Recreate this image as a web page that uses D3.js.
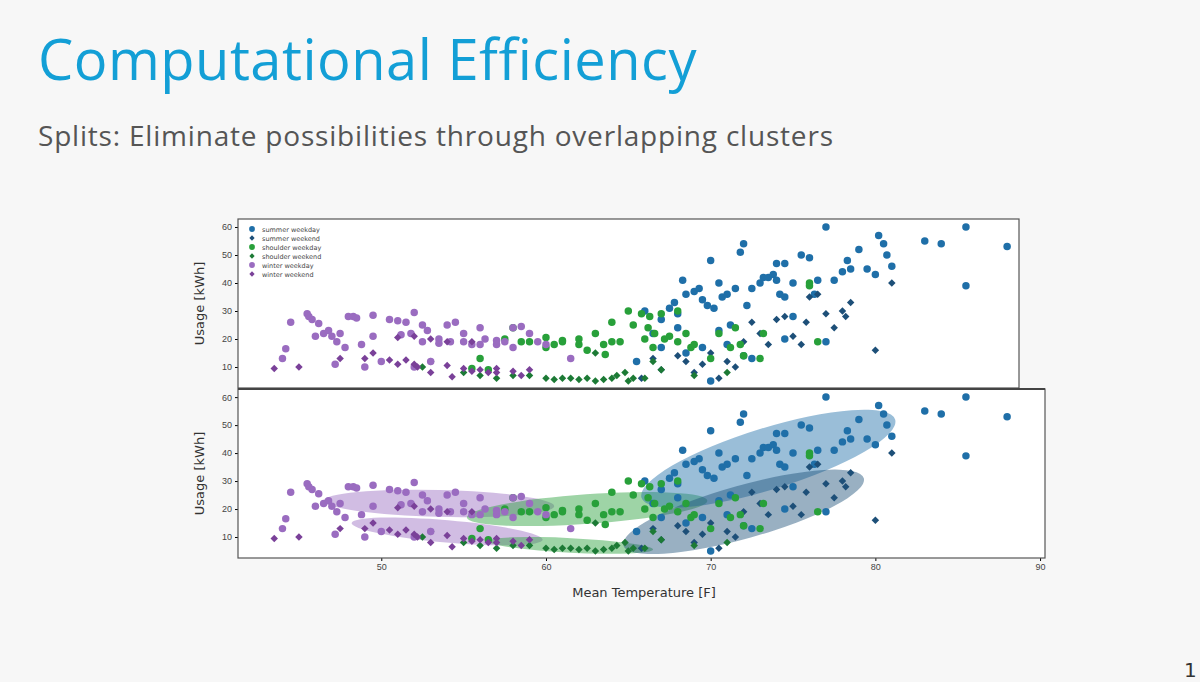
<!DOCTYPE html>
<html><head><meta charset="utf-8">
<script src="https://cdn.jsdelivr.net/npm/d3@7"></script>
<style>body{margin:0;background:#f7f7f7;font-family:"DejaVu Sans",sans-serif}</style>
</head><body><svg id="c" width="1200" height="682"></svg>
<script>
// data: [mean temperature F, usage kWh]
const summerWeekday = [[65.5,12],[66,30],[66.5,22],[67,27],[67.5,31],[67.8,33],[68,29],[68.3,41],[68.5,36],[69,37],[69.3,38],[69.5,34],[69.8,32],[70,48],[70.2,31],[70.5,40],[70.7,35],[71,36],[71.2,25],[71.5,38],[71.8,51],[72,54],[72.2,32],[72.5,38],[73,40],[73.2,42],[73.5,42],[73.8,43],[74,41],[74,47],[74.5,47],[74.2,36],[74.5,35],[75,40],[75.5,50],[76,49],[76.3,36],[76.5,41],[77,60],[77.5,41],[78,44],[78.3,48],[78.5,45],[79,52],[79.5,45],[80,43],[80.2,57],[80.5,54],[80.7,50],[81,46],[83,55],[84,54],[85.5,60],[85.5,39],[88,53],[68.5,15],[69.5,17],[70,5],[72,14],[74.5,20],[77,19],[75,28],[70.5,23],[71,18],[72.5,13],[67,17],[68,24]];
const summerWeekend = [[65.8,6],[66.5,13],[67,9],[68,14],[68.5,12],[69.5,11],[70,15],[70.5,6],[71,12],[71.5,10],[72.5,26],[73,22],[74,27],[74.5,28],[75,21],[75.5,18],[75.8,26],[76,35],[76.5,36],[77,29],[77.5,24],[78,30],[78.2,28],[78.5,33],[80,16],[81,40],[69,8],[72,19],[73.5,18]];
const shoulderWeekday = [[55.5,9.5],[56,13],[56.5,9],[58,24],[59,19],[60,20.5],[60.5,18],[61,19.5],[60,17],[62,20],[62.5,16],[63,22],[63.5,18],[63.6,14.5],[64,26],[64,19],[64.5,19],[65,30],[65.3,25],[65.8,29],[66.3,28],[66.2,24],[66.6,22],[67,29],[67.2,20],[67.5,21],[68,30],[68.5,22],[68.8,17],[69,18],[70,13],[70.5,22],[71.2,17],[71.5,24],[71.8,18],[72,14],[73,13],[73.2,22],[76,40],[76,39],[76.5,19],[61,19],[62,18],[66,20],[68,19],[66.5,17],[58.5,19],[57.5,20]];
const shoulderWeekend = [[57,6],[58,7],[59,7],[60,6],[60.5,5.5],[61,6],[61.5,6],[62,5.5],[62.5,6],[63,5],[63.5,5.5],[64,6],[64.3,7],[64.8,8],[65.3,6],[65,5],[66,6],[67,9],[63,15],[66.5,12],[69,7],[71,8],[55,8],[56,7],[53,12],[52.5,10]];
const winterWeekday = [[44,13],[44.2,16.5],[44.5,26],[45.5,29],[45.6,28],[45.8,27],[46,21],[46.2,25.5],[46.5,22],[46.8,23],[47,21],[47.3,19],[47.5,22],[47.2,11],[48,28],[48.3,28],[48.5,27.5],[49.5,28.5],[49.5,21],[50.5,27],[51,26.5],[51.2,21.5],[51.5,26],[51.8,22],[52,29.5],[52.5,25],[52.8,23],[52,10],[53,12],[54,25],[54.5,26],[53.5,20],[54.2,19],[55,22],[55.5,18],[56,24],[56.3,20],[57,18],[57.5,19],[58,24],[58.5,24.5],[59,22],[59.5,19],[60,18],[55,19],[56,18],[57,19.5],[58,17],[61.5,13],[52.5,19],[53.5,18.5],[50,12],[49,10],[47.8,17],[48.8,18]];
const winterWeekend = [[43.5,9.5],[45,10],[47.5,13],[49,13],[49.5,15],[50.5,12.5],[51,11],[51.5,12.5],[52,11],[52.2,10],[53,8],[54,10.5],[54.3,6.5],[55,9.5],[56,9],[57,9.5],[58,8.5],[59,9],[58.5,7],[53,20],[54,19],[55.5,19],[52,21],[51,20.5],[57,8],[56.5,8],[55.5,8.5]];

const seriesNames = ["summer weekday","summer weekend","shoulder weekday","shoulder weekend","winter weekday","winter weekend"];
const seriesData = [summerWeekday, summerWeekend, shoulderWeekday, shoulderWeekend, winterWeekday, winterWeekend];
const seriesColors = ["#1f6fa8","#1d4f78","#28a03a","#1c7a35","#9a6cc0","#7a4199"];
const seriesShape = ["circle","diamond","circle","diamond","circle","diamond"];
// cluster ellipses: center [F,kWh], end of major axis [F,kWh], minor half-width in kWh
const clusterCenters = [[53.5,22],[54,12],[62.5,20],[61.5,7],[73.5,38],[72,19]];
const clusterEnds = [[60.5,21],[59.8,9],[69.8,23],[66.5,5.5],[81.2,52],[79.3,31]];
const clusterMinor = [4.8,4,5.3,2.6,11,9.5];
const clusterColors = ["#9a6cc0","#9a6cc0","#28a03a","#28a03a","#1f6fa8","#1d4f78"];
const yTicks = [10,20,30,40,50,60];
const xTicks = [50,60,70,80,90];

const svg = d3.select("#c");
svg.append("text").attr("x",38).attr("y",80).attr("font-family","'Open Sans', sans-serif")
  .attr("font-size",56).attr("letter-spacing",0.5).attr("fill","#139fd6").text("Computational Efficiency");
svg.append("text").attr("x",38).attr("y",146).attr("font-family","'Open Sans', sans-serif")
  .attr("font-size",28).attr("letter-spacing",0.8).attr("fill","#555").text("Splits: Eliminate possibilities through overlapping clusters");
svg.append("text").attr("x",1184).attr("y",677).attr("font-size",20).attr("fill","#333").text("1");

const x = d3.scaleLinear().domain([41.3,90.3]).range([238,1045]);
const yTop = d3.scaleLinear().domain([2.5,62.5]).range([388,220]);
const yBot = d3.scaleLinear().domain([2.5,62.9]).range([558,389]);

function panel(y, right, top, bottom, showX) {
  const g = svg.append("g");
  g.append("rect").attr("x",238).attr("y",top).attr("width",right-238).attr("height",bottom-top).attr("fill","#fff");
  const ya = g.append("g").attr("transform","translate(238,0)").call(d3.axisLeft(y).tickValues(yTicks).tickSize(3));
  ya.selectAll("text").attr("font-size",9).attr("fill","#444");
  ya.select(".domain").remove();
  g.append("text").attr("transform",`translate(204,${(top+bottom)/2}) rotate(-90)`).attr("text-anchor","middle")
    .attr("font-size",13).attr("fill","#333").text("Usage [kWh]");
  if (showX) {
    const xa = g.append("g").attr("transform",`translate(0,${bottom})`).call(d3.axisBottom(x).tickValues(xTicks).tickSize(3));
    xa.selectAll("text").attr("font-size",9).attr("fill","#444");
    xa.select(".domain").remove();
    g.append("text").attr("x",644).attr("y",597).attr("text-anchor","middle").attr("font-size",13).attr("fill","#333").text("Mean Temperature [F]");
  }
  return g;
}
function points(g, y) {
  seriesData.forEach((d,i) => {
    const isC = seriesShape[i]==="circle";
    const sym = d3.symbol().type(isC?d3.symbolCircle:d3.symbolSquare).size(isC?44:28);
    g.selectAll(null).data(d).enter().append("path").attr("d",sym())
      .attr("transform",p=>`translate(${x(p[0])},${y(p[1])})` + (isC?"":" rotate(45)")).attr("fill",seriesColors[i]);
  });
}
function frame(g, right, top, bottom) {
  g.append("rect").attr("x",238).attr("y",top).attr("width",right-238).attr("height",bottom-top)
    .attr("fill","none").attr("stroke","#555").attr("stroke-width",1.2);
}

const gTop = panel(yTop, 1019, 219, 388, false);
points(gTop, yTop);
frame(gTop, 1019, 219, 388);

const gBot = panel(yBot, 1045, 389, 558, true);
clusterCenters.forEach((c,i) => {
  const cx = x(c[0]), cy = yBot(c[1]);
  const ex = x(clusterEnds[i][0]), ey = yBot(clusterEnds[i][1]);
  const rx = Math.hypot(ex-cx, ey-cy);
  const ry = clusterMinor[i] * (yBot(0)-yBot(1));
  const ang = Math.atan2(ey-cy, ex-cx) * 180 / Math.PI;
  gBot.append("ellipse").attr("cx",cx).attr("cy",cy).attr("rx",rx).attr("ry",ry)
    .attr("transform",`rotate(${ang},${cx},${cy})`).attr("fill",clusterColors[i]).attr("fill-opacity",0.45);
});
points(gBot, yBot);
frame(gBot, 1045, 389, 558);
svg.append("line").attr("x1",238).attr("x2",1045).attr("y1",389).attr("y2",389).attr("stroke","#444").attr("stroke-width",2);

// legend
const lg = svg.append("g").attr("transform","translate(252,229)");
seriesNames.forEach((n,i) => {
  const isC = seriesShape[i]==="circle";
  const sym = d3.symbol().type(isC?d3.symbolCircle:d3.symbolSquare).size(isC?26:14);
  lg.append("path").attr("d",sym()).attr("transform",`translate(0,${i*9})`+(isC?"":" rotate(45)")).attr("fill",seriesColors[i]);
  lg.append("text").attr("x",10).attr("y",i*9+2.5).attr("font-size",6.5).attr("fill","#444").text(n);
});
</script></body></html>
